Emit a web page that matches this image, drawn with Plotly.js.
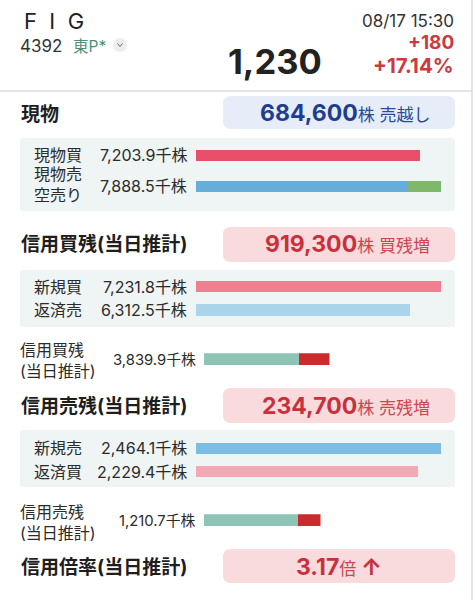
<!DOCTYPE html>
<html><head><meta charset="utf-8">
<script src="https://cdn.plot.ly/plotly-3.0.1.min.js"></script>
<style>html,body{margin:0;padding:0;background:#fff}#chart{width:475px;height:600px}</style>
</head><body><div id="chart"></div>
<script>
// ---------- data ----------
const tickerName = "F\u00a0\u00a0I\u00a0\u00a0G";
const tickerCode = "4392";
const tickerMarket = "東P*";
const quoteTime = "08/17 15:30";
const quotePrice = "1,230";
const quoteChange = "+180";
const quoteChangePct = "+17.14%";

const sectionTitles = ["現物", "信用買残(当日推計)", "信用売残(当日推計)", "信用倍率(当日推計)"];
const summaryNumbers = ["684,600", "919,300", "234,700", "3.17"];
const summaryUnits = ["株 売越し", "株 買残増", "株 売残増", "倍 "];

// 現物 (千株)
const cashCats = ["現物買", "現物売"];
const cashMainValues = [7203.9, 6840.0];   // 現物買 / 現物売
const cashShortValues = [0, 1048.5];       // 空売り
const cashTotals = [7203.9, 7888.5];

// 信用買 flows (千株)
const mBuyCats = ["新規買", "返済売"];
const mBuyValues = [7231.8, 6312.5];

// 信用売 flows (千株)
const mSellCats = ["新規売", "返済買"];
const mSellValues = [2464.1, 2229.4];

// balances (千株): total and today's change
const buyBalTotal = [3839.9];
const buyBalChange = [919.3];
const sellBalTotal = [1210.7];
const sellBalChange = [234.7];

// ---------- helpers ----------
const W = 475, H = 600;
const px = x => x / W, py = y => 1 - y / H;
const F = "Inter, Noto Sans CJK JP, sans-serif";
const fmt = v => v.toLocaleString('en-US', {minimumFractionDigits: 1, maximumFractionDigits: 1});

function rrect(x0, y0, x1, y1, r, fill) {
  const rx = r / W, ry = r / H;
  const X0 = px(x0), X1 = px(x1), Y0 = py(y0), Y1 = py(y1);
  const p = `M${X0+rx},${Y0} L${X1-rx},${Y0} Q${X1},${Y0} ${X1},${Y0-ry} L${X1},${Y1+ry} Q${X1},${Y1} ${X1-rx},${Y1} L${X0+rx},${Y1} Q${X0},${Y1} ${X0},${Y1+ry} L${X0},${Y0-ry} Q${X0},${Y0} ${X0+rx},${Y0} Z`;
  return {type: 'path', xref: 'paper', yref: 'paper', path: p, fillcolor: fill, line: {width: 0}, layer: 'below'};
}
function ann(text, x, y, size, color, xanchor, align) {
  return {xref: 'paper', yref: 'paper', x: px(x), y: py(y), text: text, showarrow: false,
    xanchor: xanchor || 'left', yanchor: 'middle', align: align || 'left',
    font: {family: F, size: size, color: color}, borderpad: 0};
}

// ---------- traces ----------
const traces = [];
function bar(xa, ya, cats, vals, color, width) {
  traces.push({type: 'bar', orientation: 'h', x: vals, y: cats, xaxis: xa, yaxis: ya,
    marker: {color: color, line: {width: 0}}, width: width, hoverinfo: 'skip', showlegend: false});
}
bar('x', 'y', cashCats, cashMainValues, ['#e8506a', '#66aed9'], 0.355);
bar('x', 'y', cashCats, cashShortValues, ['rgba(0,0,0,0)', '#7fb86a'], 0.355);
bar('x2', 'y2', mBuyCats, mBuyValues, ['#f08090', '#a9d4ea'], 0.49);
bar('x3', 'y3', ['残'], [buyBalTotal[0] - buyBalChange[0]], '#8ec4b6', 1);
bar('x3', 'y3', ['残'], buyBalChange, '#cc2b2e', 1);
bar('x4', 'y4', mSellCats, mSellValues, ['#7dbde3', '#f4a7b5'], 0.46);
bar('x5', 'y5', ['残'], [sellBalTotal[0] - sellBalChange[0]], '#8ec4b6', 1);
bar('x5', 'y5', ['残'], sellBalChange, '#cc2b2e', 1);

function xax(x0, x1, max, anchor) {
  return {domain: [px(x0), px(x1)], range: [0, max], visible: false, fixedrange: true, anchor: anchor};
}
function yax(top, bottom, cats, anchor) {
  return {domain: [py(bottom), py(top)], type: 'category', categoryarray: cats, categoryorder: 'array',
    range: [cats.length - 0.5, -0.5], visible: false, fixedrange: true, anchor: anchor};
}

// ---------- annotations ----------
const A = [];
const dark = '#2b2b2b';
A.push(ann(tickerName, 23, 21, 22, '#222'));
A.push(ann(tickerCode, 19, 46, 17, '#333'));
A.push(ann(tickerMarket, 72, 46, 15.5, '#4f8f78'));
A.push(ann(quoteTime, 455, 21, 17, '#333', 'right'));
A.push(ann('<b>' + quoteChange + '</b>', 455, 43, 19, '#cc3a40', 'right'));
A.push(ann('<b>' + quoteChangePct + '</b>', 455, 66, 20.5, '#cc3a40', 'right'));
A.push(ann('<b>' + quotePrice + '</b>', 227, 62, 34.5, '#222'));

const titleY = [115, 244, 406, 567];
sectionTitles.forEach((t, i) => A.push(ann('<b>' + t + '</b>', 20, titleY[i], 19, '#1e1e1e')));

const sumColors = ['#1f3d8f', '#c8313b', '#c8313b', '#c8313b'];
const unitColors = ['#2a4a98', '#cc4650', '#cc4650', '#cc4650'];
const sumY = [113, 244, 406, 567];
for (let i = 0; i < 4; i++) {
  let txt = '<b>' + summaryNumbers[i] + '</b><span style="font-size:17px;fill:' + unitColors[i] + '">' + summaryUnits[i] + '</span>';
  if (i === 3) txt += '<b>↑</b>';
  A.push(ann(txt, i === 3 ? 339 : 431, sumY[i], 23, sumColors[i], i === 3 ? 'center' : 'right'));
}

const lab = 16;
A.push(ann(cashCats[0], 33, 155, lab, dark));
A.push(ann(fmt(cashTotals[0]) + '千株', 188, 155, lab, dark, 'right'));
A.push(ann(cashCats[1] + '<br>空売り', 33, 184.5, lab, dark));
A.push(ann(fmt(cashTotals[1]) + '千株', 188, 186.5, lab, dark, 'right'));

A.push(ann(mBuyCats[0], 33, 286.5, lab, dark));
A.push(ann(fmt(mBuyValues[0]) + '千株', 188, 286.5, lab, dark, 'right'));
A.push(ann(mBuyCats[1], 33, 310, lab, dark));
A.push(ann(fmt(mBuyValues[1]) + '千株', 188, 310, lab, dark, 'right'));

A.push(ann('信用買残<br>(当日推計)', 19, 360, lab, dark));
A.push(ann(fmt(buyBalTotal[0]) + '千株', 197, 359.5, 14.8, dark, 'right'));

A.push(ann(mSellCats[0], 33, 448.3, lab, dark));
A.push(ann(fmt(mSellValues[0]) + '千株', 188, 448.3, lab, dark, 'right'));
A.push(ann(mSellCats[1], 33, 471.7, lab, dark));
A.push(ann(fmt(mSellValues[1]) + '千株', 188, 471.7, lab, dark, 'right'));

A.push(ann('信用売残<br>(当日推計)', 19, 522, lab, dark));
A.push(ann(fmt(sellBalTotal[0]) + '千株', 197, 520.5, 14.8, dark, 'right'));

// ---------- shapes ----------
const S = [];
S.push({type: 'line', xref: 'paper', yref: 'paper', x0: 0, x1: px(472), y0: py(91), y1: py(91), line: {color: '#dcdcdc', width: 1.5}});
S.push({type: 'line', xref: 'paper', yref: 'paper', x0: px(472), x1: px(472), y0: 0, y1: 1, line: {color: '#d4d4d4', width: 1.2}});
S.push(rrect(223, 96, 455, 129, 8, '#e6edf9'));
S.push(rrect(20, 138, 455, 211, 3, '#eff4f4'));
S.push(rrect(223, 227, 455, 262, 8, '#f9dadd'));
S.push(rrect(20, 270, 455, 327, 3, '#eff4f4'));
S.push(rrect(223, 388, 455, 423, 8, '#f9dadd'));
S.push(rrect(20, 430, 455, 487, 3, '#eff4f4'));
S.push(rrect(223, 549, 455, 583, 8, '#f9dadd'));
S.push({type: 'circle', xref: 'paper', yref: 'paper', x0: px(113), x1: px(127), y0: py(52), y1: py(38), fillcolor: '#eeeeee', line: {width: 0}});
S.push({type: 'path', xref: 'paper', yref: 'paper', path: `M${px(117.5)},${py(43.5)} L${px(120)},${py(46.5)} L${px(122.5)},${py(43.5)}`, line: {color: '#666', width: 1}});

const layout = {
  width: W, height: H, margin: {l: 0, r: 0, t: 0, b: 0}, paper_bgcolor: '#fff', plot_bgcolor: 'rgba(0,0,0,0)',
  barmode: 'stack', showlegend: false, hovermode: false,
  xaxis: xax(196, 441, cashTotals[1], 'y'), yaxis: yax(140, 202, cashCats, 'x'),
  xaxis2: xax(196, 441, mBuyValues[0], 'y2'), yaxis2: yax(274.75, 321.75, mBuyCats, 'x2'),
  xaxis3: xax(204, 329.5, buyBalTotal[0], 'y3'), yaxis3: yax(353.3, 365.3, ['残'], 'x3'),
  xaxis4: xax(196, 441, mSellValues[0], 'y4'), yaxis4: yax(436.6, 483.4, mSellCats, 'x4'),
  xaxis5: xax(204, 320.5, sellBalTotal[0], 'y5'), yaxis5: yax(514.3, 526, ['残'], 'x5'),
  shapes: S, annotations: A
};
Plotly.newPlot('chart', traces, layout, {staticPlot: true, displayModeBar: false});
</script></body></html>
